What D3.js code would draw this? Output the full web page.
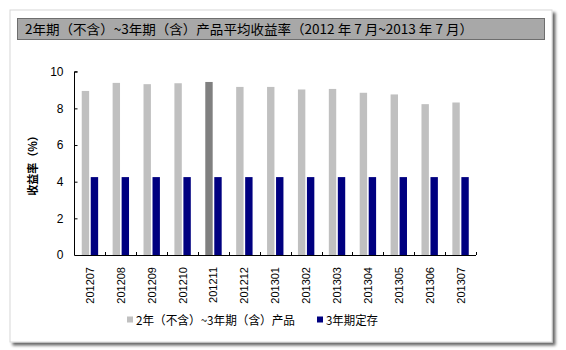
<!DOCTYPE html>
<html>
<head>
<meta charset="utf-8">
<script src="https://cdn.jsdelivr.net/npm/d3@7"></script>
<style>
  body { margin: 0; background: #fff; }
  svg { display: block; }
</style>
</head>
<body>
<svg id="chart" width="566" height="350"></svg>
<script>
// Monthly average yields (%), July 2012 – July 2013
const months = ["201207","201208","201209","201210","201211","201212","201301","201302","201303","201304","201305","201306","201307"];
const productYield = [8.95, 9.39, 9.32, 9.37, 9.44, 9.17, 9.17, 9.03, 9.06, 8.85, 8.76, 8.23, 8.32];
const depositRate = [4.25, 4.25, 4.25, 4.25, 4.25, 4.25, 4.25, 4.25, 4.25, 4.25, 4.25, 4.25, 4.25];
const seriesNames = ["2年（不含）~3年期（含）产品", "3年期定存"];
const yTicks = [0, 2, 4, 6, 8, 10];
const highlightMonth = "201211";

const svg = d3.select("#chart");
const fontLatin = "Arial, 'Liberation Sans', sans-serif";
const fontCJK = "'Noto Sans CJK SC', sans-serif";

// panel with drop shadow
const defs = svg.append("defs");
const f = defs.append("filter").attr("id", "shadow").attr("x", "-5%").attr("y", "-5%").attr("width", "115%").attr("height", "115%");
f.append("feGaussianBlur").attr("in", "SourceAlpha").attr("stdDeviation", 1.5);
f.append("feOffset").attr("dx", 3).attr("dy", 3).attr("result", "ob");
f.append("feComponentTransfer").append("feFuncA").attr("type", "linear").attr("slope", 0.6);
const m = f.append("feMerge");
m.append("feMergeNode");
m.append("feMergeNode").attr("in", "SourceGraphic");

svg.append("rect")
  .attr("x", 10).attr("y", 10).attr("width", 542).attr("height", 332)
  .attr("fill", "#fff").attr("stroke", "#d8d8d8").attr("stroke-width", 1)
  .attr("filter", "url(#shadow)");

// title bar
svg.append("rect")
  .attr("x", 17.5).attr("y", 18.5).attr("width", 527).attr("height", 21)
  .attr("fill", "#a8a8a8").attr("stroke", "#6e6e6e").attr("stroke-width", 1);
svg.append("text")
  .attr("x", 25).attr("y", 34)
  .attr("font-family", fontCJK).attr("font-size", 13).attr("fill", "#000")
  .attr("textLength", 448).attr("lengthAdjust", "spacingAndGlyphs")
  .text("2年期（不含）~3年期（含）产品平均收益率（2012 年 7 月~2013 年 7 月）");

// plot area
const plot = { left: 74.5, right: 476, top: 72, bottom: 255 };

const x = d3.scaleBand().domain(months).range([plot.left, plot.right]).paddingInner(0).paddingOuter(0);
const y = d3.scaleLinear().domain([0, 10]).range([plot.bottom, 71.7]);

const barW = 7.4, barGap = 1.6;
const g = svg.append("g");

// product yields
g.selectAll("rect.prod").data(months).join("rect")
  .attr("class", "prod")
  .attr("x", d => x(d) + x.bandwidth() / 2 - barGap / 2 - barW)
  .attr("width", barW)
  .attr("y", (d, i) => y(productYield[i]))
  .attr("height", (d, i) => y(0) - y(productYield[i]))
  .attr("fill", d => d === highlightMonth ? "#808080" : "#c0c0c0");

// deposit rates
g.selectAll("rect.dep").data(months).join("rect")
  .attr("class", "dep")
  .attr("x", d => x(d) + x.bandwidth() / 2 + barGap / 2)
  .attr("width", barW)
  .attr("y", (d, i) => y(depositRate[i]))
  .attr("height", (d, i) => y(0) - y(depositRate[i]))
  .attr("fill", "#000080");

// y axis, inside ticks
const yAxis = d3.axisRight(y).tickValues(yTicks).tickSize(3).tickFormat(d3.format("d"));
const ya = svg.append("g").attr("transform", `translate(${plot.left},0)`).call(yAxis);
ya.select(".domain").attr("stroke", "#000").attr("d", `M3,${y(10)}H0V${y(0)}`);
ya.selectAll(".tick line").attr("stroke", "#000");
ya.selectAll(".tick text")
  .attr("x", -11).attr("text-anchor", "end")
  .attr("font-family", fontLatin).attr("font-size", 12).attr("fill", "#000");

// x axis, inside ticks at category boundaries
svg.append("line")
  .attr("x1", plot.left).attr("x2", plot.right)
  .attr("y1", plot.bottom + 0.5).attr("y2", plot.bottom + 0.5)
  .attr("stroke", "#000");
svg.selectAll("line.xt").data(months).join("line")
  .attr("class", "xt")
  .attr("x1", d => Math.round(x(d) + x.bandwidth()) + 0.5)
  .attr("x2", d => Math.round(x(d) + x.bandwidth()) + 0.5)
  .attr("y1", plot.bottom - 3).attr("y2", plot.bottom)
  .attr("stroke", "#000");

svg.selectAll("text.xl").data(months).join("text")
  .attr("class", "xl")
  .attr("transform", d => `translate(${x(d) + x.bandwidth() / 2 + 4},267) rotate(-90)`)
  .attr("text-anchor", "end")
  .attr("font-family", fontLatin).attr("font-size", 11).attr("fill", "#000")
  .text(d => d);

// y axis title
svg.append("text")
  .attr("transform", `translate(37,163) rotate(-90)`)
  .attr("text-anchor", "middle")
  .attr("font-family", fontCJK).attr("font-size", 11).attr("font-weight", "bold").attr("fill", "#000")
  .text("收益率（%）");

// legend
const legend = [
  { name: seriesNames[0], color: "#c0c0c0", x: 127, w: 159 },
  { name: seriesNames[1], color: "#000080", x: 317, w: 52 }
];
const lg = svg.selectAll("g.lg").data(legend).join("g").attr("class", "lg")
  .attr("transform", d => `translate(${d.x},320)`);
lg.append("rect").attr("x", 0).attr("y", -3.5).attr("width", 6).attr("height", 6).attr("fill", d => d.color);
lg.append("text").attr("x", 9).attr("y", 4.5)
  .attr("font-family", fontCJK).attr("font-size", 12).attr("fill", "#000")
  .attr("textLength", d => d.w).attr("lengthAdjust", "spacingAndGlyphs")
  .text(d => d.name);
</script>
</body>
</html>
